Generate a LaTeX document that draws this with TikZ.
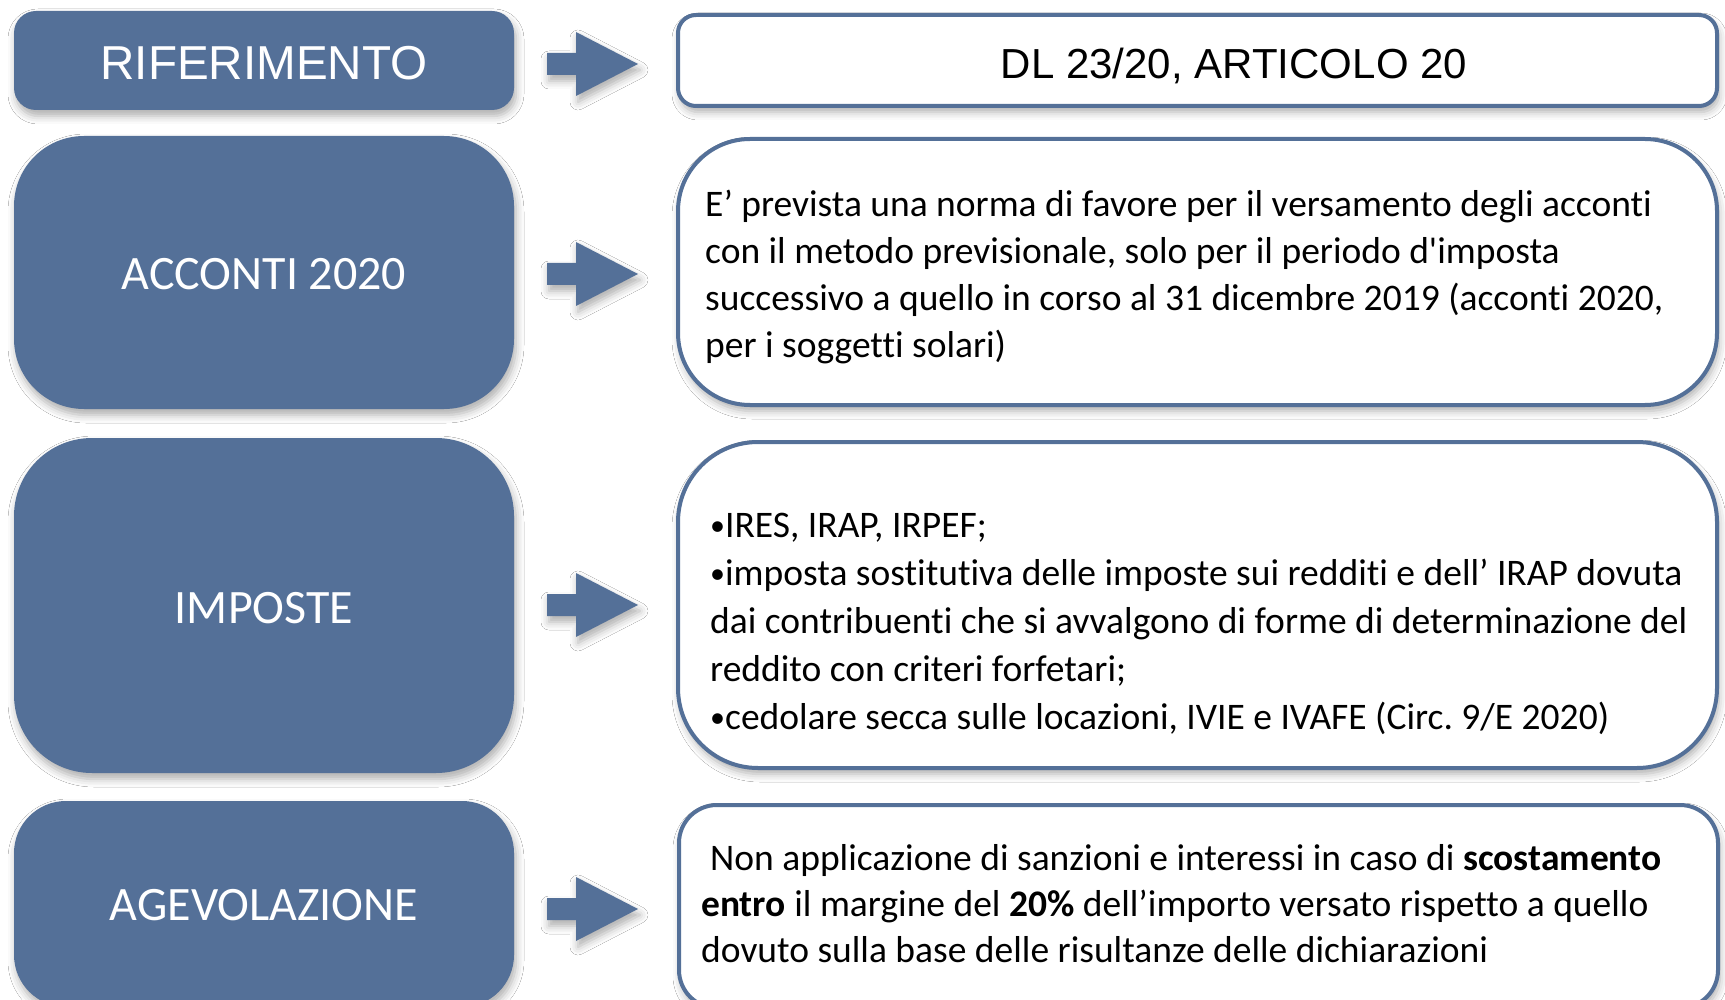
\documentclass[tikz,border=0pt]{standalone}
\usepackage{fontspec}
\setmainfont[Ligatures={TeX,NoCommon}]{Carlito}
\newfontfamily\arialf{Liberation Sans}
\usetikzlibrary{shadows.blur}
\definecolor{boxblue}{RGB}{84,112,152}
\newcommand{\smbul}{\raisebox{1.5pt}{\fontsize{30}{30}\selectfont•}}
\begin{document}
\frenchspacing
\begin{tikzpicture}[x=1pt,y=-1pt,
  sh/.style={blur shadow={shadow xshift=2pt, shadow yshift=-6pt, shadow blur radius=8pt, shadow opacity=32}},
  lbox/.style={fill=boxblue, draw=none, sh, inner sep=0pt, minimum width=500pt},
  ltext/.style={text=white, inner sep=0pt, font=\fontsize{48}{56}\selectfont},
  rbox/.style={fill=white, draw=boxblue, line width=4pt, sh, inner sep=0pt, minimum width=1039pt},
  body/.style={anchor=base west, inner sep=0pt, font=\fontsize{37.5}{44}\selectfont},
  arrowst/.style={fill=boxblue, sh}
]
\useasboundingbox (0,0) rectangle (1725,1000);
\fill[white] (0,0) rectangle (1725,1000);
\clip (0,0) rectangle (1725,1000);

% left boxes
\node[lbox, minimum height=99pt, rounded corners=22pt] (L1) at (264,60.5) {};
\node[lbox, minimum height=273pt, rounded corners=70pt] (L2) at (264,272.5) {};
\node[lbox, minimum height=335pt, rounded corners=78pt] (L3) at (264,605.5) {};
\node[lbox, minimum height=206pt, rounded corners=52pt] (L4) at (264,904) {};

\node[ltext, font=\arialf\fontsize{47.6}{56}\selectfont] (l1t) at ([yshift=-3pt]L1.center) {RIFERIMENTO};
\node[ltext] (l2t) at ([yshift=-2pt]L2.center) {ACCONTI 2020};
\node[ltext] (l3t) at ([yshift=-3pt]L3.center) {IMPOSTE};
\node[ltext] (l4t) at ([yshift=-1pt]L4.center) {AGEVOLAZIONE};

% right boxes
\node[rbox, minimum height=91pt, rounded corners=18pt] (R1) at (1197.5,60.5) {};
\node[rbox, minimum height=266pt, rounded corners=72pt] (R2) at (1197.5,272) {};
\node[rbox, minimum height=326pt, rounded corners=80pt] (R3) at (1197.5,605) {};
\node[rbox, minimum height=203pt, rounded corners=38pt] (R4) at (1198.5,906.5) {};

% arrows
\coordinate (a1) at (547,64);
\coordinate (a2) at (547,274);
\coordinate (a3) at (547,605);
\coordinate (a4) at (547,909);
\foreach \a in {a1,a2,a3,a4}{
  \fill[arrowst] (\a) ++(0,-11) -- ++(29,0) -- ++(0,-21) -- ++(62,32) -- ++(-62,32) -- ++(0,-21) -- ++(-29,0) -- cycle;
}

% texts
\node[inner sep=0pt, font=\arialf\fontsize{42}{50}\selectfont] (t1) at (1234,66) {DL 23/20, ARTICOLO 20};

\node[body] (t2a) at (705,217) {E’ prevista una norma di favore per il versamento degli acconti};
\node[body] (t2b) at (705,264) {con il metodo previsionale, solo per il periodo d\textquotesingle imposta};
\node[body] (t2c) at (705,311) {successivo a quello in corso al 31 dicembre 2019 (acconti 2020,};
\node[body] (t2d) at (705,358) {per i soggetti solari)};

\node[body] (t3a) at (710,537) {\smbul IRES, IRAP, IRPEF;};
\node[body] (t3b) at (710,585) {\smbul imposta sostitutiva delle imposte sui redditi e dell’ IRAP dovuta};
\node[body] (t3c) at (710,633) {dai contribuenti che si avvalgono di forme di determinazione del};
\node[body] (t3d) at (710,681) {reddito con criteri forfetari;};
\node[body] (t3e) at (710,729) {\smbul cedolare secca sulle locazioni, IVIE e IVAFE (Circ. 9/E 2020)};

\node[body] (t4a) at (710,870) {Non applicazione di sanzioni e interessi in caso di \textbf{scostamento}};
\node[body] (t4b) at (701,916) {\textbf{entro} il margine del \textbf{20\%} dell’importo versato rispetto a quello};
\node[body] (t4c) at (701,962) {dovuto sulla base delle risultanze delle dichiarazioni};
\end{tikzpicture}
\end{document}
